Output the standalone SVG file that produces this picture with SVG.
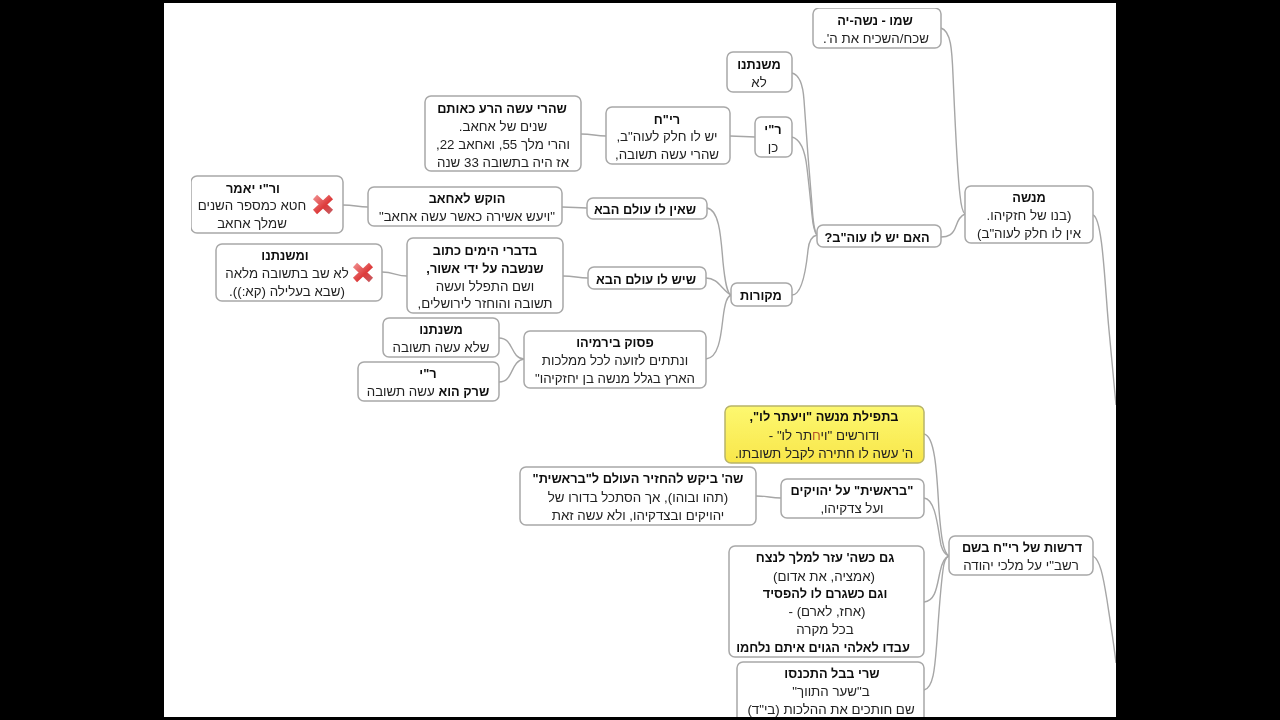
<svg xmlns="http://www.w3.org/2000/svg" width="1280" height="720" viewBox="0 0 1280 720">
<style>
.n{fill:#fff;stroke:#a8a8a8;stroke-width:1.5}
.y{stroke:#b8b46a;stroke-width:1.5}
text{font-family:"Liberation Sans",Arial,"DejaVu Sans",sans-serif;font-size:13.3px;fill:#222;text-anchor:middle;direction:rtl}
.b{font-weight:bold;font-size:12.8px;fill:#111}
.c{fill:none;stroke:#a6a6a6;stroke-width:1.4}
.xa{stroke:url(#xg);stroke-width:6;fill:none}
</style>
<defs>
<linearGradient id="xg" gradientUnits="objectBoundingBox" x1="0" y1="0" x2="1" y2="1"><stop offset="0" stop-color="#ee8484"/><stop offset="0.6" stop-color="#dd3b3b"/><stop offset="1" stop-color="#c9585e"/></linearGradient>
<linearGradient id="yg" x1="0" y1="0" x2="0" y2="1"><stop offset="0" stop-color="#fdf870"/><stop offset="1" stop-color="#f8e64a"/></linearGradient>
<filter id="soft" x="0" y="0" width="100%" height="100%"><feGaussianBlur stdDeviation="0.35"/></filter>
</defs>
<rect width="1280" height="720" fill="#000"/>
<rect x="164" y="3" width="952" height="714" fill="#fff"/>
<g filter="url(#soft)">
<g id="connectors">
<path class="c" d="M941 28C951 31 952 50 953 75C955 120 957 170 960 195C961 205 962 212 965 214"/>
<path class="c" d="M941 237C948 237 953 235 956 226C958 220 960 216 965 214"/>
<path class="c" d="M792 73C800 75 803 85 804 100C806 130 809 170 812 205C813 222 814 231 817 235"/>
<path class="c" d="M792 137C800 139 805 150 807 168C809 185 811 205 812 215C813 226 814 232 817 235"/>
<path class="c" d="M792 295C802 295 806 270 808 250C809 240 812 236 817 235"/>
<path class="c" d="M730 136C742 136 744 137 755 137"/>
<path class="c" d="M581 134C593 134 595 136 606 136"/>
<path class="c" d="M562 207C574 207 576 208 587 208"/>
<path class="c" d="M343 205C355 205 357 207 368 207"/>
<path class="c" d="M563 276C575 276 577 278 588 278"/>
<path class="c" d="M382 272C394 272 396 276 407 276"/>
<path class="c" d="M707 208C720 210 721 240 723 262C725 282 727 293 731 295"/>
<path class="c" d="M706 278C718 278 722 290 731 295"/>
<path class="c" d="M706 359C719 358 721 335 723 318C725 302 727 297 731 295"/>
<path class="c" d="M499 338C514 338 510 358 524 359"/>
<path class="c" d="M499 382C514 382 510 361 524 359"/>
<path class="c" d="M1093 215C1103 218 1105 290 1109 330C1112 360 1114 385 1116 405"/>
<path class="c" d="M1093 556C1100 560 1103 575 1107 600C1110 620 1114 645 1116 663"/>
<path class="c" d="M924 434C936 436 937 480 939 510C941 535 943 553 949 556"/>
<path class="c" d="M924 498C936 499 938 530 941 545C943 552 946 555 949 556"/>
<path class="c" d="M924 602C936 601 937 585 940 572C942 562 945 557 949 556"/>
<path class="c" d="M924 690C934 688 935 665 937 640C939 610 941 585 943 570C944 561 946 557 949 556"/>
<path class="c" d="M756 496C768 496 770 498 781 498"/>
</g>
<g id="n1"><rect class="n" x="813" y="8" width="128" height="40" rx="6"/><text class="b" x="875" y="25">שמו - נשה-יה</text><text x="876" y="43">שכח/השכיח את ה'.</text></g>
<g id="n2"><rect class="n" x="727" y="52" width="65" height="40" rx="6"/><text class="b" x="759" y="69">משנתנו</text><text x="759" y="87">לא</text></g>
<g id="n3"><rect class="n" x="755" y="117" width="37" height="40" rx="6"/><text class="b" x="773" y="134">ר"י</text><text x="773" y="152">כן</text></g>
<g id="n4"><rect class="n" x="606" y="107" width="124" height="57" rx="6"/><text class="b" x="667" y="124">רי"ח</text><text x="667" y="141">יש לו חלק לעוה"ב,</text><text x="667" y="159">שהרי עשה תשובה,</text></g>
<g id="n5"><rect class="n" x="425" y="96" width="156" height="75" rx="6"/><text class="b" x="502" y="113">שהרי עשה הרע כאותם</text><text x="503" y="131">שנים של אחאב.</text><text x="503" y="149">והרי מלך 55, ואחאב 22,</text><text x="503" y="167">אז היה בתשובה 33 שנה</text></g>
<g id="n6"><rect class="n" x="368" y="187" width="194" height="39" rx="6"/><text class="b" x="467" y="203">הוקש לאחאב</text><text x="467" y="221">"ויעש אשירה כאשר עשה אחאב"</text></g>
<g id="n7"><rect class="n" x="191" y="176" width="152" height="57" rx="6"/><text class="b" x="253" y="193">ור"י יאמר</text><text x="252" y="210">חטא כמספר השנים</text><text x="252" y="228">שמלך אחאב</text><path class="xa" d="M315 197L331 212M331 197L315 212"/></g>
<g id="n8"><rect class="n" x="587" y="198" width="120" height="21" rx="6"/><text class="b" x="645" y="214">שאין לו עולם הבא</text></g>
<g id="n9"><rect class="n" x="407" y="238" width="156" height="75" rx="6"/><text class="b" x="485" y="255">בדברי הימים כתוב</text><text class="b" x="485" y="273">שנשבה על ידי אשור,</text><text x="485" y="291">ושם התפלל ועשה</text><text x="485" y="308">תשובה והוחזר לירושלים,</text></g>
<g id="n10"><rect class="n" x="216" y="244" width="166" height="57" rx="6"/><text class="b" x="285" y="260">ומשנתנו</text><text x="287" y="278">לא שב בתשובה מלאה</text><text x="287" y="296">(שבא בעלילה (קא:)).</text><path class="xa" d="M355 265L371 280M371 265L355 280"/></g>
<g id="n11"><rect class="n" x="588" y="267" width="118" height="22" rx="6"/><text class="b" x="646" y="284">שיש לו עולם הבא</text></g>
<g id="n12"><rect class="n" x="731" y="283" width="61" height="23" rx="6"/><text class="b" x="761" y="300">מקורות</text></g>
<g id="n13"><rect class="n" x="817" y="225" width="124" height="22" rx="6"/><text class="b" x="877" y="242">האם יש לו עוה"ב?</text></g>
<g id="n14"><rect class="n" x="965" y="186" width="128" height="57" rx="6"/><text class="b" x="1029" y="202">מנשה</text><text x="1029" y="220">(בנו של חזקיהו.</text><text x="1029" y="238">אין לו חלק לעוה"ב)</text></g>
<g id="n15"><rect class="n" x="383" y="318" width="116" height="39" rx="6"/><text class="b" x="441" y="334">משנתנו</text><text x="441" y="352">שלא עשה תשובה</text></g>
<g id="n16"><rect class="n" x="358" y="362" width="141" height="39" rx="6"/><text class="b" x="428" y="378">ר"י</text><text x="428" y="396"><tspan class="b">שרק הוא</tspan> עשה תשובה</text></g>
<g id="n17"><rect class="n" x="524" y="331" width="182" height="57" rx="6"/><text class="b" x="615" y="347">פסוק בירמיהו</text><text x="615" y="365">ונתתים לזועה לכל ממלכות</text><text x="615" y="383">הארץ בגלל מנשה בן יחזקיהו"</text></g>
<g id="n18"><rect class="y" fill="url(#yg)" x="725" y="406" width="199" height="57" rx="6"/><text class="b" x="824" y="421">בתפילת מנשה "ויעתר לו",</text><text x="824" y="440">ודורשים "וי<tspan fill="#b5542a">ח</tspan>תר לו" -</text><text x="824" y="458">ה' עשה לו חתירה לקבל תשובתו.</text></g>
<g id="n19"><rect class="n" x="781" y="479" width="143" height="39" rx="6"/><text class="b" x="852" y="495">"בראשית" על יהויקים</text><text x="852" y="513">ועל צדקיהו,</text></g>
<g id="n20"><rect class="n" x="520" y="467" width="236" height="58" rx="6"/><text class="b" x="638" y="483">שה' ביקש להחזיר העולם ל"בראשית"</text><text x="638" y="502">(תהו ובוהו), אך הסתכל בדורו של</text><text x="638" y="520">יהויקים ובצדקיהו, ולא עשה זאת</text></g>
<g id="n21"><rect class="n" x="949" y="536" width="144" height="39" rx="6"/><text class="b" x="1022" y="552">דרשות של רי"ח בשם</text><text x="1021" y="570">רשב"י על מלכי יהודה</text></g>
<g id="n22"><rect class="n" x="729" y="546" width="195" height="111" rx="6"/><text class="b" x="825" y="562">גם כשה' עזר למלך לנצח</text><text x="824" y="581">(אמציה, את אדום)</text><text class="b" x="825" y="598">וגם כשגרם לו להפסיד</text><text x="827" y="616">(אחז, לארם) -</text><text x="825" y="634">בכל מקרה</text><text class="b" x="823" y="652">עבדו לאלהי הגוים איתם נלחמו</text></g>
<g id="n23"><rect class="n" x="737" y="662" width="187" height="62" rx="6"/><text class="b" x="832" y="678">שרי בבל התכנסו</text><text x="831" y="696">ב"שער התווך"</text><text x="831" y="714">שם חותכים את ההלכות (בי"ד)</text></g>
</g>
<rect y="717" width="1280" height="3" fill="#000"/>
</svg>
